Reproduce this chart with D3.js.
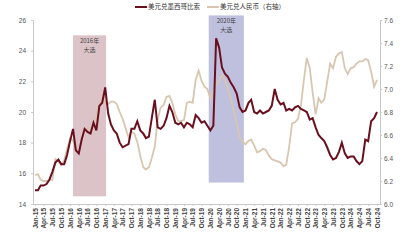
<!DOCTYPE html>
<html>
<head>
<meta charset="utf-8">
<script src="https://cdn.jsdelivr.net/npm/d3@7"></script>
<style>
  body { margin: 0; background: #fff; }
  text { font-family: "Noto Sans CJK SC", "Noto Sans", sans-serif; }
</style>
</head>
<body>
<div id="chart"></div>
<script>
// monthly values, Jan-15 .. Oct-24
var mxn = [
  14.9, 14.9, 15.2, 15.2, 15.3, 15.6, 16.1, 16.7, 16.9, 16.6, 16.6, 17.2,
  18.1, 18.9, 17.5, 17.3, 18.2, 18.9, 18.7, 18.6, 19.3, 18.8, 20.4, 20.6,
  21.6, 19.9, 19.2, 18.8, 18.6, 18.0, 17.7, 17.8, 17.9, 18.9, 18.9, 19.4,
  18.8, 18.6, 18.3, 18.4, 19.6, 20.8, 19.0, 18.9, 19.1, 19.6, 20.4, 20.0,
  19.3, 19.2, 19.3, 19.0, 19.3, 19.2, 19.0, 19.8, 19.6, 19.3, 19.4, 19.1,
  18.8, 19.1, 24.8, 24.2, 22.9, 22.5, 22.3, 21.9, 21.6, 21.2, 20.3, 20.0,
  20.1, 20.6, 20.8, 20.0, 19.9, 20.1, 19.9, 20.0, 20.1, 20.4, 21.5, 20.8,
  20.5, 20.6, 20.1, 20.2, 20.1, 20.3, 20.4, 20.2, 20.1, 20.0, 19.5, 19.6,
  19.0, 18.5, 18.3, 18.1, 17.7, 17.2, 16.9, 17.0, 17.4, 18.0, 17.3, 17.0,
  17.1, 17.1, 16.8, 16.6, 16.8, 18.2, 18.1, 19.4, 19.6, 20.0
];
var cny = [
  6.25, 6.26, 6.21, 6.20, 6.20, 6.21, 6.21, 6.39, 6.37, 6.34, 6.38, 6.48,
  6.57, 6.55, 6.47, 6.48, 6.57, 6.63, 6.67, 6.65, 6.67, 6.76, 6.88, 6.94,
  6.88, 6.87, 6.89, 6.89, 6.87, 6.80, 6.74, 6.66, 6.58, 6.63, 6.61, 6.54,
  6.42, 6.32, 6.30, 6.32, 6.40, 6.50, 6.73, 6.84, 6.86, 6.93, 6.94, 6.88,
  6.78, 6.72, 6.72, 6.73, 6.88, 6.89, 6.88, 7.08, 7.16, 7.07, 7.02, 7.00,
  6.92, 6.99, 7.04, 7.07, 7.12, 7.08, 7.00, 6.92, 6.81, 6.70, 6.58, 6.54,
  6.52, 6.55, 6.56, 6.51, 6.45, 6.46, 6.48, 6.47, 6.42, 6.39, 6.38, 6.37,
  6.36, 6.33, 6.34, 6.50, 6.70, 6.71, 6.74, 6.86, 7.08, 7.27, 7.18, 6.97,
  6.78, 6.92, 6.88, 6.91, 7.06, 7.22, 7.18, 7.28, 7.31, 7.32, 7.18, 7.13,
  7.18, 7.19, 7.22, 7.24, 7.24, 7.26, 7.25, 7.15, 7.02, 7.08
];
var elections = [
  { start: "2016-02-01", end: "2017-01-10", top: 25.0, bottom: 14.5, year: "2016年", fill: "#dcc3c8" },
  { start: "2019-12-15", end: "2020-12-15", top: 26.3, bottom: 15.4, year: "2020年", fill: "#bfc0de" }
];
var seriesNames = ["美元兑墨西哥比索", "美元兑人民币（右轴）"];
var leftTicks = [14, 16, 18, 20, 22, 24, 26];
var rightTicks = [6.0, 6.2, 6.4, 6.6, 6.8, 7.0, 7.2, 7.4, 7.6];

var width = 409, height = 240;
var start = new Date(2015, 0, 1);
var parse = d3.timeParse("%Y-%m-%d");

var svg = d3.select("#chart").append("svg")
    .attr("width", width)
    .attr("height", height);

var x = d3.scaleTime()
    .domain([start, new Date(2024, 9, 1)])
    .range([35, 377]);
var yL = d3.scaleLinear().domain([14, 26]).range([204, 20]);
var yR = d3.scaleLinear().domain([6.0, 7.6]).range([204, 20]);

function dateAt(i) { return d3.timeMonth.offset(start, i); }

// election shading
var band = svg.selectAll("g.band")
    .data(elections)
  .enter().append("g")
    .attr("class", "band");

band.append("rect")
    .attr("x", function(d) { return x(parse(d.start)); })
    .attr("y", function(d) { return yL(d.top); })
    .attr("width", function(d) { return x(parse(d.end)) - x(parse(d.start)); })
    .attr("height", function(d) { return yL(d.bottom) - yL(d.top); })
    .style("fill", function(d) { return d.fill; });

band.append("text")
    .attr("x", function(d) { return (x(parse(d.start)) + x(parse(d.end))) / 2; })
    .attr("y", function(d) { return yL(d.top) + 8; })
    .attr("text-anchor", "middle")
    .style("font-size", "6px")
    .style("fill", "#444")
    .text(function(d) { return d.year; });

band.append("text")
    .attr("x", function(d) { return (x(parse(d.start)) + x(parse(d.end))) / 2; })
    .attr("y", function(d) { return yL(d.top) + 17; })
    .attr("text-anchor", "middle")
    .style("font-size", "6px")
    .style("fill", "#444")
    .text("大选");

// axes
var axisL = svg.append("g")
    .attr("transform", "translate(33,0)")
    .call(d3.axisLeft(yL).tickValues(leftTicks).tickSize(2).tickPadding(5));
var axisR = svg.append("g")
    .attr("transform", "translate(380,0)")
    .call(d3.axisRight(yR).tickValues(rightTicks).tickSize(2).tickPadding(2)
      .tickFormat(d3.format(".1f")));
var axisB = svg.append("g")
    .attr("transform", "translate(0,204)")
    .call(d3.axisBottom(x).ticks(d3.timeMonth.every(3)).tickSize(2)
      .tickFormat(d3.timeFormat("%b-%y")));

axisB.selectAll("text")
    .attr("transform", "rotate(-90)")
    .attr("x", -4)
    .attr("y", 0)
    .attr("dy", "0.35em")
    .style("text-anchor", "end");

[axisL, axisR, axisB].forEach(function(a) {
  a.select(".domain").attr("stroke", "#c8c8c8");
  a.selectAll(".tick line").attr("stroke", "#c8c8c8");
  a.selectAll("text")
    .style("font-size", "6.5px")
    .style("fill", "#555")
    .style("font-family", "Liberation Sans, Arial, sans-serif");
});
axisB.select(".domain").attr("d", "M33,0.5H380");
axisB.selectAll("text").style("font-weight", "bold").style("fill", "#444");

// lines
var lineL = d3.line()
    .x(function(d, i) { return x(dateAt(i)); })
    .y(function(d) { return yL(d); });
var lineR = d3.line()
    .x(function(d, i) { return x(dateAt(i)); })
    .y(function(d) { return yR(d); });

svg.append("path")
    .datum(cny)
    .attr("d", lineR)
    .attr("fill", "none")
    .attr("stroke", "#d8c6b0")
    .attr("stroke-width", 1.8);

svg.append("path")
    .datum(mxn)
    .attr("d", lineL)
    .attr("fill", "none")
    .attr("stroke", "#6a0f1e")
    .attr("stroke-width", 2);

// legend
var legend = svg.append("g").attr("transform", "translate(0,7)");
var legendX = [135, 207];
var legendColor = ["#6a0f1e", "#d8c6b0"];
seriesNames.forEach(function(name, i) {
  legend.append("line")
      .attr("x1", legendX[i]).attr("x2", legendX[i] + 12)
      .attr("y1", 0).attr("y2", 0)
      .attr("stroke", legendColor[i])
      .attr("stroke-width", 2);
  legend.append("text")
      .attr("x", legendX[i] + 13)
      .attr("y", 0)
      .attr("dy", "0.35em")
      .style("font-size", "6.5px")
      .style("fill", "#333")
      .text(name);
});
</script>
</body>
</html>
